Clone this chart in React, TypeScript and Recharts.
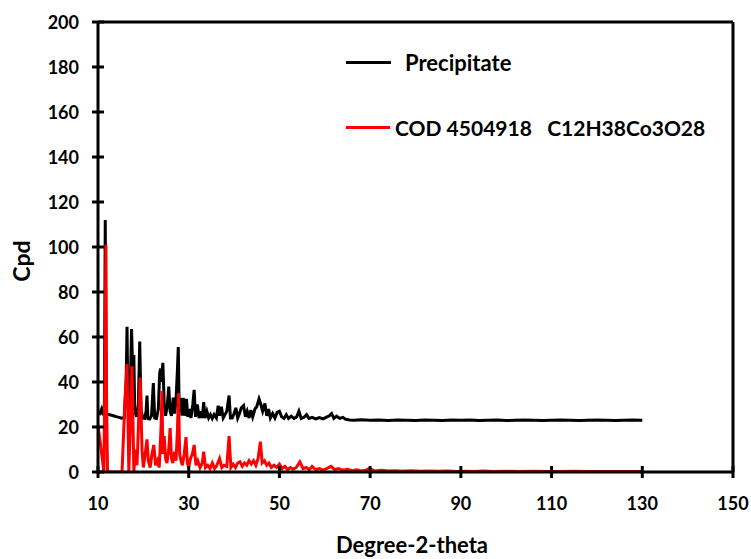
import React from "react";
import { Line, LineChart, ReferenceLine, XAxis, YAxis, Label } from "recharts";

const precipitateTheta = [
  10.0, 10.4, 10.8, 11.1, 11.4, 11.6, 11.8, 12.2, 12.8, 13.4, 14.0, 14.6, 15.2, 15.8,
  16.2, 16.4, 16.6, 16.9, 17.2, 17.4, 17.7, 17.9, 18.1, 18.5, 18.9, 19.2, 19.5, 19.9,
  20.3, 20.6, 20.8, 21.0, 21.4, 21.8, 22.2, 22.5, 22.9, 23.3, 23.6, 23.8, 24.0, 24.3,
  24.6, 24.9, 25.3, 25.6, 25.9, 26.2, 26.6, 26.9, 27.2, 27.5, 27.7, 27.9, 28.2, 28.5,
  28.8, 29.1, 29.5, 29.8, 30.2, 30.5, 30.9, 31.2, 31.5, 31.9, 32.3, 32.7, 33.0, 33.3,
  33.6, 34.0, 34.4, 34.8, 35.2, 35.6, 36.1, 36.5, 36.8, 37.2, 37.6, 38.0, 38.4, 38.9,
  39.2, 39.6, 40.0, 40.4, 40.8, 41.2, 41.6, 42.1, 42.5, 42.9, 43.3, 43.7, 44.1, 44.6,
  45.0, 45.5, 45.9, 46.3, 46.8, 47.2, 47.6, 48.0, 48.5, 49.0, 49.5, 50.0, 50.5, 51.0,
  51.5, 52.0, 52.6, 53.2, 53.8, 54.3, 54.8, 55.4, 56.0, 56.5, 57.2, 58.0, 58.8, 59.6,
  60.4, 61.0, 61.5, 62.0, 62.6, 63.3, 64.0, 64.6, 65.5, 66.5, 68, 70, 72, 74, 76, 78,
  80, 82, 84, 86, 88, 90, 92, 94, 96, 98, 100, 102, 104, 106, 108, 110, 112, 114, 116,
  118, 120, 122, 124, 126, 128, 130,
];
const precipitateCpd = [
  26.5, 26.0, 28.0, 25.8, 26.0, 112, 26.0, 25.6, 25.3, 25.0, 24.6, 24.3, 23.9, 24.2,
  40, 64.5, 30, 25, 45, 63.5, 40, 52, 27, 24.5, 30, 58, 27, 24,
  23.8, 27, 34, 23.8, 23.6, 25, 39.5, 24, 23.8, 28, 44, 46, 40, 48.5,
  30, 25, 30, 38, 27, 25, 33, 26, 32, 45, 55.5, 27, 33, 25,
  33, 25, 32.5, 24.5, 28, 24, 30, 36.5, 24.5, 30, 24, 27, 24, 31,
  24, 27, 24, 25.5, 23.8, 25.5, 24, 29.5, 25, 29, 24, 25.5, 27, 34,
  24, 24, 26, 28.5, 24, 26, 28.5, 29.5, 24.5, 27, 24, 27.5, 24.5, 28,
  29, 32.5, 30, 27, 30.5, 25, 28, 24, 26, 24, 26.5, 27, 24.5, 23.8,
  25.5, 23.8, 24.8, 23.8, 24.5, 27, 23.8, 24.3, 25.5, 23.8, 24.3, 23.6, 24.2, 23.6,
  24.4, 25, 26, 23.8, 24.8, 23.8, 24.3, 23.4, 23.1, 23.0, 23.2, 23.0, 23.1, 22.9, 23.1, 23.0,
  22.9, 23.1, 23.0, 22.9, 23.1, 23.0, 23.1, 22.9, 23.0, 23.1, 22.9, 23.0, 23.1, 23.0, 22.9,
  23.0, 23.1, 23.0, 22.9,
  23.0, 23.1, 23.0, 22.9, 23.0, 23.1, 23.0,
];

// Reference pattern COD 4504918 (red)
const codTheta = [
  10.0, 10.5, 11.0, 11.3, 11.5, 11.75, 11.9, 12.1, 13.0, 14.0, 15.3, 15.9, 16.4, 16.8,
  17.1, 17.5, 17.9, 18.3, 18.6, 19.0, 19.3, 19.7, 20.0, 20.4, 20.8, 21.1, 21.5, 21.9,
  22.3, 22.7, 23.1, 23.5, 23.9, 24.1, 24.3, 24.6, 24.9, 25.2, 25.6, 25.9, 26.2, 26.5,
  26.9, 27.2, 27.5, 27.75, 28.0, 28.3, 28.6, 29.0, 29.4, 29.7, 30.0, 30.4, 30.8, 31.2,
  31.6, 32.0, 32.5, 33.0, 33.3, 33.7, 34.2, 34.7, 35.2, 35.7, 36.2, 36.8, 37.3, 37.8,
  38.4, 38.9, 39.3, 39.8, 40.3, 40.8, 41.3, 41.8, 42.3, 42.8, 43.3, 43.8, 44.3, 44.8,
  45.3, 45.8, 46.2, 46.7, 47.2, 47.7, 48.2, 48.8, 49.4, 50.0, 50.6, 51.2, 51.8, 52.4,
  53.0, 53.7, 54.5, 55.2, 55.9, 56.6, 57.2, 58.0, 58.8, 59.6, 60.4, 61.4, 62.2, 63.0,
  64.0, 65.0, 66.0, 67.0, 68.0, 69.0, 69.8, 71, 72.5, 74, 75.5, 77, 79, 81, 83, 85, 87,
  89, 91, 93, 95, 97, 100, 103, 106, 109, 112, 115, 118, 121, 124, 127, 130,
];
const codCpd = [
  20.5, 13, 5, 0, 40, 101, 30, 0, 0, 0, 0, 30, 48, 0,
  20, 47, 0, 10, 3, 25, 42, 10, 2, 8, 14.5, 5, 2, 8,
  12, 3, 5, 2, 20, 36, 8, 16, 6, 4, 10, 19.5, 6, 4,
  9, 5, 18, 35, 8, 5, 3, 8, 15.5, 4, 2, 6, 8, 12,
  3, 5, 2, 4, 9, 2, 3, 1.5, 4, 1.5, 3, 6, 2, 3,
  2.5, 16, 2, 3.5, 2, 4, 4.5, 2.5, 4, 3, 5, 3.5, 5, 3,
  6, 13.5, 4, 5, 3, 4, 2, 3, 2, 3.5, 1.5, 2.5, 1, 2,
  1.2, 2, 4.5, 1.5, 2, 1, 2.5, 1, 1.5, 0.8, 1.5, 2.5, 1, 1.5,
  0.8, 1.2, 0.6, 1, 0.5, 0.8, 1.5, 0.5, 0.8, 0.4, 0.6, 0.3, 0.5, 0.3, 0.4, 0.3, 0.4,
  0.2, 0.3, 0.2, 0.4, 0.2, 0.3, 0.2, 0.3, 0.2, 0.2, 0.3, 0.2, 0.2, 0.2, 0.2, 0.2,
];

const xTicks = [10, 30, 50, 70, 90, 110, 130, 150];
const yTicks = [0, 20, 40, 60, 80, 100, 120, 140, 160, 180, 200];

const precipitateData = precipitateTheta.map((t, i) => ({ theta: t, cpd: precipitateCpd[i] }));
const codData = codTheta.map((t, i) => ({ theta: t, cpd: codCpd[i] }));

const FONT = "Lato, 'DejaVu Sans', sans-serif";

function XTick({ x, y, payload }: any) {
  return (
    <g>
      <line x1={x} x2={x} y1={y - 6} y2={y + 6} stroke="#000" strokeWidth={3} />
      <text x={x} y={y + 38} textAnchor="middle" fontFamily={FONT} fontWeight={700} fontSize={18} fill="#000">
        {payload.value}
      </text>
    </g>
  );
}

function YTick({ x, y, payload }: any) {
  return (
    <g>
      <line x1={x - 6} x2={x + 6} y1={y} y2={y} stroke="#000" strokeWidth={3} />
      <text x={x - 19} y={y + 6.5} textAnchor="end" fontFamily={FONT} fontWeight={700} fontSize={18} fill="#000">
        {payload.value}
      </text>
    </g>
  );
}

// legend drawn by hand, sits over the plot's upper right
function LegendBox() {
  return (
    <svg width={380} height={110} style={{ position: "absolute", left: 340, top: 40 }}>
      <line x1={6} x2={51} y1={22.5} y2={22.5} stroke="#000" strokeWidth={3} />
      <text x={65} y={31} fontFamily={FONT} fontWeight={700} fontSize={22} fill="#000">
        Precipitate
      </text>
      <line x1={6} x2={50} y1={87.5} y2={87.5} stroke="#ff0000" strokeWidth={3} />
      <text x={55} y={96} fontFamily={FONT} fontWeight={700} fontSize={21} fill="#000" style={{ whiteSpace: "pre" }}>
        COD 4504918   C12H38Co3O28
      </text>
    </svg>
  );
}

export default function App() {
  return (
    <div style={{ position: "absolute", left: 0, top: 0, width: 751, height: 559, background: "#fff" }}>
      <LineChart width={751} height={559} margin={{ top: 22, right: 18, left: 0, bottom: 0 }}>
        <XAxis
          dataKey="theta"
          type="number"
          domain={[10, 150]}
          ticks={xTicks}
          allowDataOverflow
          axisLine={{ stroke: "#000", strokeWidth: 3 }}
          tickLine={false}
          tickSize={0}
          tickMargin={0}
          tick={<XTick />}
          height={87}
        >
          <Label
            content={() => (
              <text x={412} y={553} textAnchor="middle" fontFamily={FONT} fontWeight={700} fontSize={22} fill="#000">
                Degree-2-theta
              </text>
            )}
          />
        </XAxis>
        <YAxis
          dataKey="cpd"
          type="number"
          domain={[0, 200]}
          ticks={yTicks}
          allowDataOverflow
          axisLine={{ stroke: "#000", strokeWidth: 3 }}
          tickLine={false}
          tickSize={0}
          tickMargin={0}
          tick={<YTick />}
          width={98}
        >
          <Label
            content={() => (
              <text
                x={30}
                y={261}
                transform="rotate(-90, 30, 261)"
                textAnchor="middle"
                fontFamily={FONT}
                fontWeight={700}
                fontSize={23}
                fill="#000"
              >
                Cpd
              </text>
            )}
          />
        </YAxis>
        <ReferenceLine y={200} stroke="#000" strokeWidth={3} />
        <ReferenceLine x={150} stroke="#000" strokeWidth={3} />
        <Line
          data={precipitateData}
          dataKey="cpd"
          name="Precipitate"
          type="linear"
          stroke="#000"
          strokeWidth={3}
          dot={false}
          isAnimationActive={false}
        />
        <Line
          data={codData}
          dataKey="cpd"
          name="COD 4504918   C12H38Co3O28"
          type="linear"
          stroke="#ff0000"
          strokeWidth={3}
          dot={false}
          isAnimationActive={false}
        />
      </LineChart>
      <LegendBox />
    </div>
  );
}
